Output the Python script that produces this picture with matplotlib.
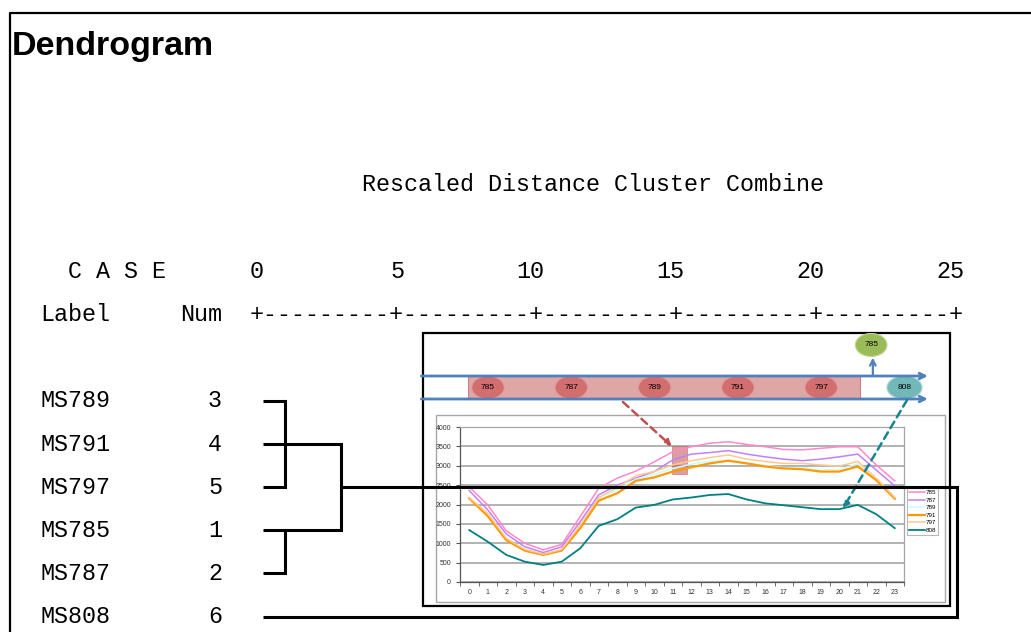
import matplotlib
matplotlib.use("Agg")
import matplotlib.pyplot as plt
from matplotlib import font_manager
from matplotlib.patches import Rectangle, Ellipse, ConnectionPatch

# ---- dendrogram data ----
case_labels = ["MS789", "MS791", "MS797", "MS785", "MS787", "MS808"]
case_nums = [3, 4, 5, 1, 2, 6]
# merges: node ids 0-5 are leaves, merges get ids 6, 7, 8, 9
merge_children = [[0, 1, 2], [3, 4], [6, 7], [8, 5]]
merge_dist = [1.0, 1.0, 3.0, 25.0]
merge_row = [1, 3, 2, 2]
dist_ticks = [0, 5, 10, 15, 20, 25]

# ---- inset chart data (hourly load) ----
hours = list(range(24))
s785 = [2450, 1990, 1320, 1000, 830, 970, 1690, 2420, 2680, 2860, 3100, 3360,
        3490, 3580, 3620, 3550, 3490, 3420, 3410, 3450, 3490, 3490, 3020, 2610]
s787 = [2360, 1860, 1240, 910, 760, 910, 1560, 2250, 2500, 2680, 2850, 3150,
        3300, 3340, 3390, 3300, 3230, 3170, 3130, 3170, 3230, 3300, 2890, 2480]
s789 = [2170, 1740, 1110, 830, 715, 830, 1430, 2150, 2380, 2650, 2780, 2930,
        3040, 3110, 3150, 3090, 3010, 2950, 2950, 2900, 2900, 3050, 2650, 2200]
s791 = [2160, 1700, 1080, 810, 700, 810, 1390, 2100, 2290, 2610, 2700, 2850,
        2960, 3060, 3130, 3060, 2980, 2930, 2910, 2850, 2850, 2980, 2630, 2150]
s797 = [2180, 1770, 1130, 840, 720, 840, 1470, 2180, 2440, 2740, 2850, 3020,
        3130, 3210, 3280, 3170, 3110, 3060, 3060, 3020, 2990, 3110, 2680, 2180]
s808 = [1340, 1040, 700, 525, 440, 525, 870, 1450, 1620, 1920, 1990, 2130,
        2180, 2245, 2270, 2130, 2030, 1980, 1930, 1880, 1880, 1990, 1750, 1390]
series_names = ["785", "787", "789", "791", "797", "808"]
series_vals = [s785, s787, s789, s791, s797, s808]
series_colors = ["#ff88cc", "#c080ff", "#c8ffff", "#ff9900", "#ffc890", "#008080"]
series_lw = [1.1, 1.1, 1.1, 1.6, 1.1, 1.3]

# cluster diagram above the chart
member_names = ["785", "787", "789", "791", "797"]
outlier_name = "808"
moved_name = "785"

names = {f.name for f in font_manager.fontManager.ttflist}
mono = "Liberation Mono" if "Liberation Mono" in names else "DejaVu Sans Mono"
if "Liberation Sans Narrow" in names:
    title_family, title_size = "Liberation Sans Narrow", 31
else:
    title_family, title_size = "Liberation Sans", 24.5
small = "Liberation Sans" if "Liberation Sans" in names else "DejaVu Sans"

W, H = 1031, 632
fig = plt.figure(figsize=(W / 100, H / 100), dpi=100)


def px_axes(x0, y0, x1, y1, **kw):
    return fig.add_axes([x0 / W, 1 - y1 / H, (x1 - x0) / W, (y1 - y0) / H], **kw)


# pixel overlay for frames
pax = fig.add_axes([0, 0, 1, 1], zorder=0)
pax.set_xlim(0, W)
pax.set_ylim(H, 0)
pax.axis("off")
pax.plot([10, 10, W], [H, 13, 13], color="black", lw=1.6)
pax.add_patch(Rectangle((423, 333), 527, 273, fill=False, ec="black", lw=1.6))
pax.add_patch(Rectangle((436, 415), 509, 187, fill=False, ec="#a6a6a6", lw=1.0))

# ---- top cluster diagram ----
tax = px_axes(423, 333, 950, 410, zorder=1)
tax.set_xlim((423 - 488) / 83.3, (950 - 488) / 83.3)
tax.set_ylim((399 - 410) / 23, (399 - 333) / 23)
tax.axis("off")
tax.add_patch(Rectangle((-0.24, 0), 4.71, 1, fc="#dfa6a6", ec="#cc8080", lw=0.8))
for lane in [0, 1]:
    tax.annotate("", xy=(5.28, lane), xytext=(-0.8, lane),
                 arrowprops=dict(arrowstyle="->", color="#4f81bd", lw=2,
                                 shrinkA=0, shrinkB=0))
for i, name in enumerate(member_names):
    tax.add_patch(Ellipse((i, 0.5), 0.39, 1.0, fc="#d26e6e", ec="#e39a9a", lw=0.8))
    tax.text(i, 0.5, name, fontsize=6, ha="center", va="center", family=small)
tax.add_patch(Ellipse((5.0, 0.5), 0.42, 1.0, fc="#72b8b8", ec="#a8d4d4", lw=0.8))
tax.text(5.0, 0.5, outlier_name, fontsize=6, ha="center", va="center", family=small)
tax.annotate("", xy=(4.62, 1.8), xytext=(4.62, 1.0),
             arrowprops=dict(arrowstyle="->", color="#4f81bd", lw=1.6,
                             shrinkA=0, shrinkB=0))
tax.add_patch(Ellipse((4.6, 2.35), 0.38, 1.0, fc="#9bbb59", ec="#c0d890", lw=0.8))
tax.text(4.6, 2.35, moved_name, fontsize=6, ha="center", va="center", family=small)

# ---- hourly chart ----
cx = px_axes(460, 427, 904, 582, zorder=1)
for name, vals, col, lw in zip(series_names, series_vals, series_colors, series_lw):
    cx.plot(hours, vals, color=col, lw=lw, label=name)
cx.set_xlim(-0.5, 23.5)
cx.set_ylim(0, 4000)
cx.set_yticks(range(0, 4001, 500))
cx.set_xticks(hours)
cx.set_xticks([h - 0.5 for h in hours] + [23.5], minor=True)
cx.tick_params(axis="x", which="major", length=0, pad=5, labelsize=5, labelcolor="#333333")
cx.tick_params(axis="x", which="minor", length=3, color="#555555")
cx.tick_params(axis="y", length=3, labelsize=5, labelcolor="#333333", color="#555555")
for t in cx.get_xticklabels() + cx.get_yticklabels():
    t.set_family(small)
cx.grid(axis="y", color="#a6a6a6", lw=1.2)
cx.set_axisbelow(True)
for side, sp in cx.spines.items():
    sp.set_color("#555555" if side in ("left", "bottom") else "#a6a6a6")
    sp.set_linewidth(0.9)
cx.add_patch(Rectangle((10.95, 2800), 0.8, 700, fc="#c0504d", alpha=0.55, ec="#c0504d", lw=0.6))
leg = cx.legend(loc="upper left", bbox_to_anchor=(907 / W, 1 - 488 / H),
                bbox_transform=fig.transFigure, fontsize=4.5, handlelength=2.5,
                labelspacing=0.35, borderpad=0.3, handletextpad=0.2,
                borderaxespad=0, fancybox=False, frameon=True)
leg.get_frame().set_edgecolor("#a6a6a6")
leg.get_frame().set_linewidth(0.8)
for t in leg.get_texts():
    t.set_family(small)

# dashed pointers from the diagram to the chart
for start, end, col in [((1.62, -0.13), (10.95, 3500), "#c0504d"),
                        ((5.03, -0.05), (20.2, 1900), "#17868a")]:
    con = ConnectionPatch(xyA=start, coordsA=tax.transData, xyB=end, coordsB=cx.transData,
                          arrowstyle="-|>", linestyle=(0, (3, 2)), color=col, lw=1.8,
                          mutation_scale=9, zorder=4)
    fig.add_artist(con)

# ---- dendrogram axes (distance units, rows) ----
dax = fig.add_axes([0, 0, 1, 1], zorder=5)
dax.set_xlim(-257 / 28, (W - 257) / 28)
dax.set_ylim((H - 400.5) / 43.2, -400.5 / 43.2)
dax.axis("off")
dax.patch.set_alpha(0)

leaf_start = 0.2
node_row = list(range(len(case_labels)))
node_x = [leaf_start] * len(case_labels)
for children, d, row in zip(merge_children, merge_dist, merge_row):
    rows = [node_row[c] for c in children]
    for c in children:
        dax.plot([node_x[c], d], [node_row[c], node_row[c]], color="black", lw=2.2,
                 solid_capstyle="butt")
    dax.plot([d, d], [min(rows), max(rows)], color="black", lw=2.2, solid_capstyle="projecting")
    node_row.append(row)
    node_x.append(d)

fs = 16.8
dy = -0.05
for i, (lab, num) in enumerate(zip(case_labels, case_nums)):
    dax.text(-7.75, i + dy, lab, family=mono, fontsize=fs, ha="left", va="center_baseline")
    dax.text(-1.25, i + dy, str(num), family=mono, fontsize=fs, ha="right", va="center_baseline")
dax.text(-7.75, -2 + dy, "Label", family=mono, fontsize=fs, ha="left", va="center_baseline")
dax.text(-1.25, -2 + dy, "Num", family=mono, fontsize=fs, ha="right", va="center_baseline")
dax.text(-6.75, -3 + dy, "C A S E", family=mono, fontsize=fs, ha="left", va="center_baseline")
for d in dist_ticks:
    dax.text(d + 0.25, -3 + dy, str(d), family=mono, fontsize=fs, ha="right", va="center_baseline")
ruler = "+".join(["-" * 9] * (len(dist_ticks) - 1))
dax.text(12.5, -2 + dy, "+" + ruler + "+", family=mono, fontsize=fs, ha="center",
         va="center_baseline")
dax.text(3.75, -5 + dy, "Rescaled Distance Cluster Combine", family=mono, fontsize=fs,
         ha="left", va="center_baseline")

fig.text(12 / W, 1 - 47 / H, "Dendrogram", family=title_family, fontsize=title_size,
         weight="bold", ha="left", va="center")

fig.savefig("out.png", dpi=100)
